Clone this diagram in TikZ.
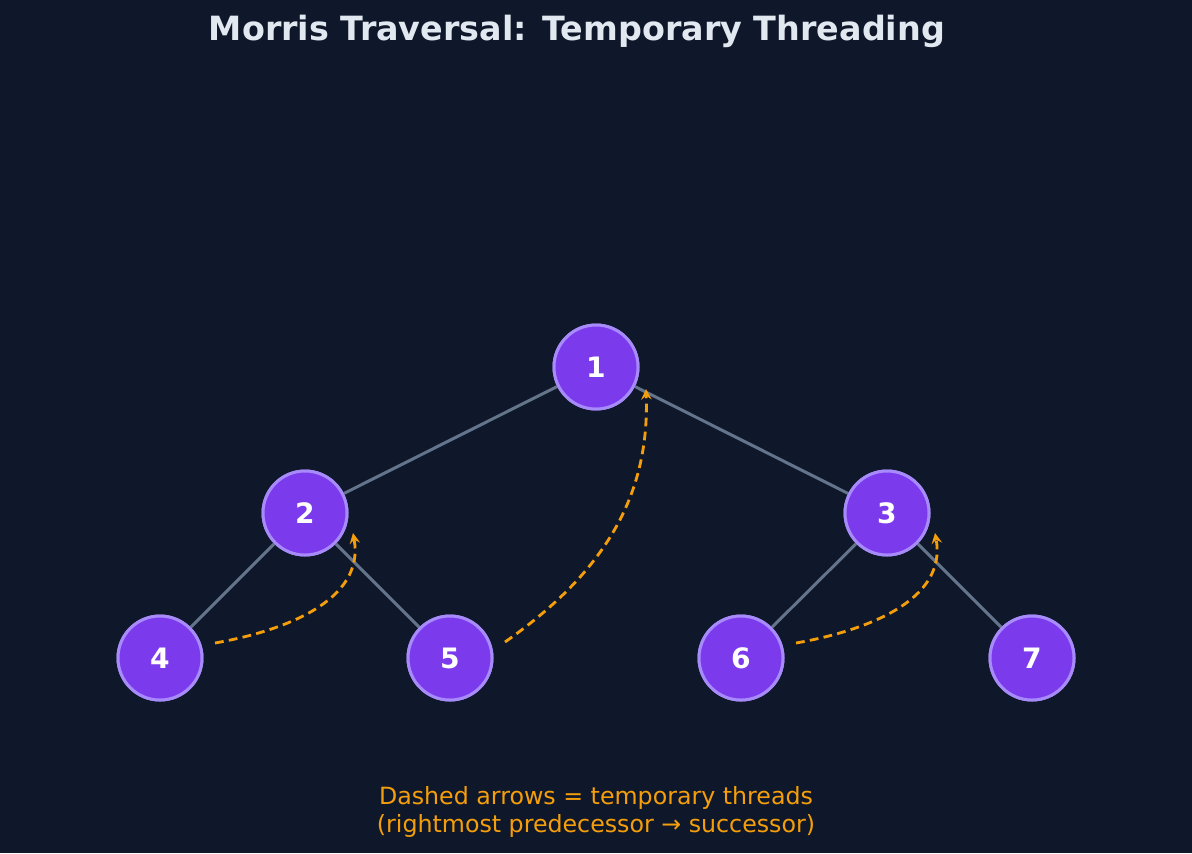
\documentclass[tikz,border=0pt]{standalone}
\usepackage{fontspec}
\setmainfont{DejaVu Sans}
\definecolor{bgdark}{HTML}{0F172A}
\definecolor{nodefill}{HTML}{7C3AED}
\definecolor{nodeline}{HTML}{A78BFA}
\definecolor{edgegray}{HTML}{64748B}
\definecolor{threadorange}{HTML}{F59E0B}
\definecolor{titlecol}{HTML}{E2E8F0}
\begin{document}
\begin{tikzpicture}[x=0.02cm, y=-0.02cm,
    treenode/.style={circle, draw=nodeline, line width=1.7pt, fill=nodefill, minimum size=84*0.02cm, inner sep=0pt, text=white, font=\bfseries\fontsize{16}{18}\selectfont},
    edge/.style={draw=edgegray, line width=1.7pt},
    thread/.style={->, >=stealth, draw=threadorange, line width=1.6pt, dash pattern=on 5pt off 3pt}
]
    % Background
    \fill[bgdark] (0,0) rectangle (1192,853);
    \useasboundingbox (0,0) rectangle (1192,853);

    % Title
    \node[text=titlecol, font=\bfseries\fontsize{19}{22}\selectfont] (title) at (577,31) {Morris Traversal: Temporary Threading};

    % Tree nodes
    \node[treenode] (n1) at (596,367) {1};
    \node[treenode] (n2) at (305,513) {2};
    \node[treenode] (n3) at (887,513) {3};
    \node[treenode] (n4) at (160,658) {4};
    \node[treenode] (n5) at (450,658) {5};
    \node[treenode] (n6) at (741,658) {6};
    \node[treenode] (n7) at (1032,658) {7};

    % Edges
    \begin{scope}[on background layer/.style={}]
    \end{scope}
    \foreach \a/\b in {n1/n2, n1/n3, n2/n4, n2/n5, n3/n6, n3/n7}
        \draw[edge] (\a) -- (\b);
    \foreach \n in {1,...,7}
        \node[treenode] at (n\n) {\n};

    % Threads
    \coordinate (t4) at (215,643);
    \coordinate (t2) at (353,533);
    \coordinate (t5) at (505,642);
    \coordinate (t1) at (646,389);
    \coordinate (t6) at (796,643);
    \coordinate (t3) at (935,533);
    \draw[thread] (t4) to[out=10, in=-80] (t2);
    \draw[thread] (t5) to[out=35, in=-88] (t1);
    \draw[thread] (t6) to[out=10, in=-80] (t3);

    % Note
    \node[text=threadorange, align=center, font=\fontsize{13.5}{16}\selectfont] (note) at (596,812) {Dashed arrows = temporary threads\\(rightmost predecessor → successor)};
\end{tikzpicture}
\end{document}
